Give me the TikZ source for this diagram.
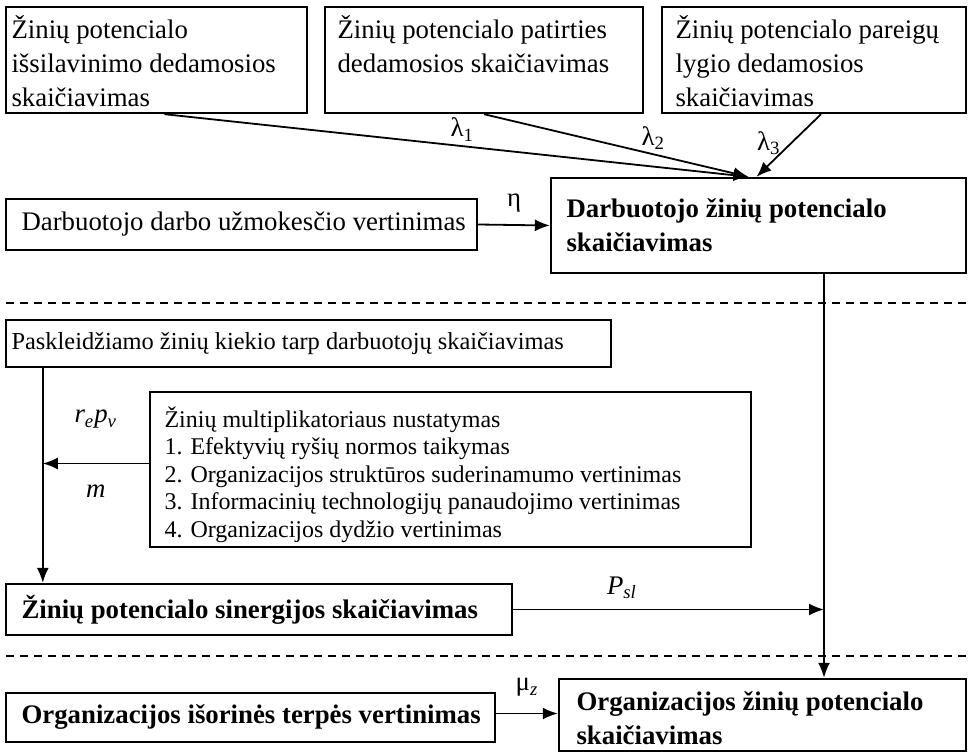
\documentclass[tikz,border=0pt]{standalone}
\usepackage{fontspec}
\setmainfont{Liberation Serif}
\usetikzlibrary{fit,arrows.meta}

\tikzset{every picture/.style={line width=0.75pt}}
\tikzset{
  blok/.style={draw, line width=1.2pt, inner sep=0pt},
  tekstas/.style={inner sep=0pt, align=left, font=\fontsize{13.4}{17}\selectfont},
  smulkus/.style={inner sep=0pt, align=left, font=\fontsize{12}{13.8}\selectfont},
  rodykle/.style={line width=0.9pt, -{Latex[length=7.5pt,width=6pt]}},
  zyma/.style={inner sep=1pt, font=\fontsize{13.4}{15}\selectfont},
  skirtukas/.style={line width=0.8pt, dash pattern={on 4pt off 3pt}}
}

\begin{document}
\begin{tikzpicture}[x=0.5pt,y=0.5pt,yscale=-1,xscale=1]
	\useasboundingbox (0,0) rectangle (968,754);
	
	% Top row
	\node[blok, fit={(6,7) (307,113)}] (islav) {};
	\node[tekstas, anchor=north west] (islavT) at ([xshift=3pt,yshift=4.5pt]islav.north west) {Žinių potencialo\\išsilavinimo dedamosios\\skaičiavimas};
	\node[blok, fit={(325,7) (643,113)}] (patirt) {};
	\node[tekstas, anchor=north west] (patirtT) at ([xshift=6.5pt,yshift=4.5pt]patirt.north west) {Žinių potencialo patirties\\dedamosios skaičiavimas};
	\node[blok, fit={(662,7) (966,113)}] (pareig) {};
	\node[tekstas, anchor=north west] (pareigT) at ([xshift=7pt,yshift=4.5pt]pareig.north west) {Žinių potencialo pareigų\\lygio dedamosios\\skaičiavimas};
	
	% Darbuotojo lygis
	\node[blok, fit={(551,178) (966,273)}] (darb) {};
	\node[tekstas, anchor=north west, font=\fontsize{13.4}{17}\selectfont\bfseries] (darbT) at ([xshift=8pt,yshift=10.5pt]darb.north west) {Darbuotojo žinių potencialo\\skaičiavimas};
	\node[blok, fit={(6,199) (477,250)}] (atlyg) {};
	\node[tekstas, anchor=west] (atlygT) at ([xshift=8pt]atlyg.west) {Darbuotojo darbo užmokesčio vertinimas};
	
	\draw[rodykle] ([xshift=4pt]islav.south) -- node[zyma, pos=0.51, above=1pt] (l1) {λ\textsubscript{1}} ([xshift=-5pt]darb.north);
	\draw[rodykle] (patirt.south) -- node[zyma, pos=0.64, above=1pt] (l2) {λ\textsubscript{2}} ([xshift=-5pt]darb.north);
	\draw[rodykle] ([xshift=3.5pt]pareig.south) -- node[zyma, pos=0.46, left=4pt] (l3) {λ\textsubscript{3}} ([xshift=-1pt]darb.north);
	\draw[rodykle] (atlyg.east) -- node[zyma, midway, above=5pt] (eta) {η} (darb.west);
	
	\draw[skirtukas] (6,303) -- (966,303);
	
	% Sinergija
	\node[blok, fit={(6,320) (611,367)}] (paskl) {};
	\node[smulkus, anchor=west, font=\fontsize{12.2}{14}\selectfont] (psklT) at ([xshift=3pt]paskl.west) {Paskleidžiamo žinių kiekio tarp darbuotojų skaičiavimas};
	\node[blok, fit={(150,392) (751,547)}] (multi) {};
	\node[smulkus, anchor=north west] (multiT) at ([xshift=7.5pt,yshift=7.5pt]multi.north west) {Žinių multiplikatoriaus nustatymas\\1. Efektyvių ryšių normos taikymas\\2. Organizacijos struktūros suderinamumo vertinimas\\3. Informacinių technologijų panaudojimo vertinimas\\4. Organizacijos dydžio vertinimas};
	\node[blok, fit={(6,584) (512,635)}] (sinerg) {};
	\node[tekstas, anchor=west, font=\fontsize{13.4}{17}\selectfont\bfseries] (sinergT) at ([xshift=8pt]sinerg.west) {Žinių potencialo sinergijos skaičiavimas};
	
	\draw[rodykle] ([xshift=19pt]paskl.south west) -- ([xshift=19pt]sinerg.north west);
	\draw[rodykle] ([yshift=-3pt]multi.west) -- node[zyma, midway, above=16pt] (rp) {\textit{r\textsubscript{e}p\textsubscript{v}}} node[zyma, midway, below=9pt] (mm) {\textit{m}} ([xshift=19pt,yshift=-3pt]paskl.south west |- multi.west);
	
	\coordinate (kelias) at ([xshift=32.75pt]darb.south);
	\draw[rodykle] (sinerg.east) -- node[zyma, pos=0.35, above=4pt] (psl) {\textit{P\textsubscript{sl}}} (sinerg.east -| kelias);
	
	\draw[skirtukas] (6,656) -- (966,656);
	
	% Organizacijos lygis
	\node[blok, fit={(559,679) (966,751)}] (org) {};
	\node[tekstas, anchor=north west, font=\fontsize{13.4}{17}\selectfont\bfseries] (orgT) at ([xshift=9pt,yshift=6.5pt]org.north west) {Organizacijos žinių potencialo\\skaičiavimas};
	\node[blok, fit={(6,693) (495,742)}] (isor) {};
	\node[tekstas, anchor=west, font=\fontsize{13.4}{17}\selectfont\bfseries] (isorT) at ([xshift=8pt]isor.west) {Organizacijos išorinės terpės vertinimas};
	
	\draw[rodykle] (kelias) -- (kelias |- org.north);
	\draw[rodykle] ([yshift=-2pt]isor.east) -- node[zyma, midway, above=7pt] (mu) {μ\textsubscript{\textit{z}}} ([yshift=-2pt]isor.east -| org.west);
	
\end{tikzpicture}
\end{document}
